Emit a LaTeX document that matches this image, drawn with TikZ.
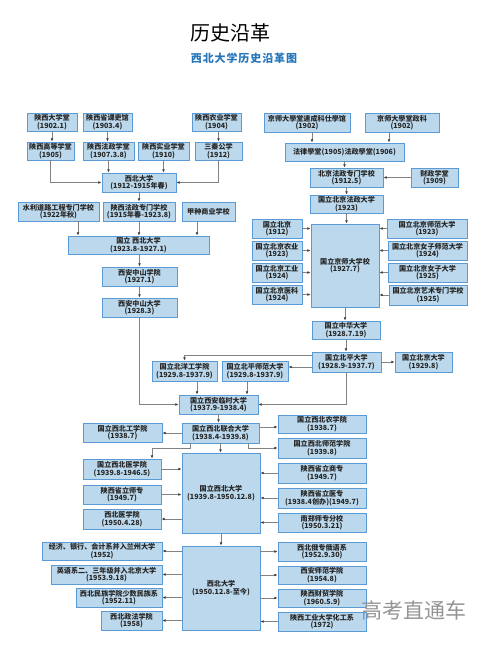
\documentclass[tikz,border=0pt]{standalone}
\usepackage{fontspec}
\newfontfamily\cjk{Noto Sans CJK SC}
\newfontfamily\cjkwide[LetterSpace=8]{Noto Sans CJK SC}
\usetikzlibrary{arrows.meta}
\definecolor{boxfill}{RGB}{187,216,236}
\definecolor{boxline}{RGB}{91,155,213}
\definecolor{linegray}{RGB}{130,130,130}
\definecolor{titleblue}{RGB}{38,118,186}
\tikzset{
  bx/.style={draw=boxline, fill=boxfill, line width=0.9pt, inner sep=0pt, align=center,
    font=\cjk\bfseries\fontsize{7.1}{7.6}\selectfont, text=black!85},
  ar/.style={draw=linegray, line width=0.9pt, -{Latex[length=3.2pt,width=2.8pt,color=black!75]}},
}
\newcommand\mybox[6]{\node[bx, minimum width={(#4-#2)*1pt}, minimum height={(#5-#3)*1pt}] (#1) at ({(#2+#4)/2},{(#3+#5)/2}) {#6};}
\begin{document}
\begin{tikzpicture}[x=1pt,y=-1pt]
\useasboundingbox (0,0) rectangle (497,650);
\node (title) at (230,33) {\cjk\fontsize{20}{20}\selectfont 历史沿革};
\node[text=titleblue] (sub) at (244,58) {\cjkwide\bfseries\fontsize{11}{11}\selectfont 西北大学历史沿革图};
% left top
\mybox{a1}{27}{113}{77}{131}{陕西大学堂\\(1902.1)}
\mybox{a2}{83}{113}{132}{131}{陕西省课吏馆\\(1903.4)}
\mybox{a3}{192}{113}{241}{131}{陕西农业学堂\\(1904)}
\mybox{b1}{27}{142}{74}{160}{陕西高等学堂\\(1905)}
\mybox{b2}{83}{142}{134}{160}{陕西法政学堂\\(1907.3.8)}
\mybox{b3}{138}{142}{189}{160}{陕西实业学堂\\(1910)}
\mybox{b4}{195}{142}{242}{160}{三秦公学\\(1912)}
\mybox{c1}{102}{173}{176}{192}{西北大学\\(1912-1915年春)}
\mybox{d1}{18}{202}{99}{221}{水利道路工程专门学校\\(1922年秋)}
\mybox{d2}{103}{202}{175}{221}{陕西法政专门学校\\(1915年春-1923.8)}
\mybox{d3}{182}{202}{235}{221}{甲种商业学校}
\mybox{e1}{68}{236}{209}{254}{国立 西北大学\\(1923.8-1927.1)}
\mybox{e2}{102}{267}{177}{286}{西安中山学院\\(1927.1)}
\mybox{e3}{102}{298}{177}{317}{西安中山大学\\(1928.3)}
% right top
\mybox{f1}{264}{113}{350}{132}{京师大學堂速成科仕學馆\\(1902)}
\mybox{f2}{365}{113}{439}{132}{京师大學堂政科\\(1902)}
\mybox{g1}{285}{143}{404}{161}{法律學堂(1905)法政學堂(1906)}
\mybox{h1}{310}{168}{383}{187}{北京法政专门学校\\(1912.5)}
\mybox{h2}{411}{168}{458}{187}{财政学堂\\(1909)}
\mybox{i1}{310}{195}{383}{213}{国立北京法政大学\\(1923)}
\mybox{j0}{311}{224}{379}{307}{国立京师大学校\\(1927.7)}
\mybox{jl1}{252}{219}{302}{238}{国立北京\\(1912)}
\mybox{jl2}{252}{241}{302}{260}{国立北京农业\\(1923)}
\mybox{jl3}{252}{263}{302}{282}{国立北京工业\\(1924)}
\mybox{jl4}{252}{285}{302}{304}{国立北京医科\\(1924)}
\mybox{jr1}{387}{219}{467}{238}{国立北京师范大学\\(1923)}
\mybox{jr2}{388}{241}{467}{260}{国立北京女子师范大学\\(1924)}
\mybox{jr3}{388}{263}{467}{282}{国立北京女子大学\\(1925)}
\mybox{jr4}{389}{285}{467}{305}{国立北京艺术专门学校\\(1925)}
\mybox{k1}{312}{321}{380}{339}{国立中华大学\\(1928.7.19)}
\mybox{k2}{312}{352}{381}{372}{国立北平大学\\(1928.9-1937.7)}
\mybox{k3}{395}{352}{452}{372}{国立北京大学\\(1929.8)}
% middle
\mybox{l1}{152}{361}{217}{381}{国立北洋工学院\\(1929.8-1937.9)}
\mybox{l2}{222}{361}{288}{381}{国立北平师范大学\\(1929.8-1937.9)}
\mybox{m1}{179}{395}{258}{414}{国立西安临时大学\\(1937.9-1938.4)}
\mybox{n1}{182}{423}{259}{443}{国立西北联合大学\\(1938.4-1939.8)}
\mybox{n2}{83}{423}{162}{442}{国立西北工学院\\(1938.7)}
\mybox{n3}{278}{415}{366}{433}{国立西北农学院\\(1938.7)}
\mybox{n4}{278}{438}{366}{458}{国立西北师范学院\\(1939.8)}
\mybox{o0}{182}{453}{260}{533}{国立西北大学\\(1939.8-1950.12.8)}
\mybox{ol1}{83}{459}{161}{479}{国立西北医学院\\(1939.8-1946.5)}
\mybox{ol2}{83}{485}{161}{504}{陕西省立师专\\(1949.7)}
\mybox{ol3}{83}{509}{161}{529}{西北医学院\\(1950.4.28)}
\mybox{or1}{278}{463}{366}{483}{陕西省立商专\\(1949.7)}
\mybox{or2}{278}{488}{366}{508}{陕西省立医专\\(1938.4创办)(1949.7)}
\mybox{or3}{278}{513}{366}{532}{南郑师专分校\\(1950.3.21)}
% bottom
\mybox{p0}{182}{546}{260}{630}{西北大学\\(1950.12.8-至今)}
\mybox{pl1}{42}{542}{162}{560}{经济、银行、会计系并入兰州大学\\(1952)}
\mybox{pl2}{51}{565}{162}{584}{英语系二、三年级并入北京大学\\(1953.9.18)}
\mybox{pl3}{76}{588}{162}{607}{西北民族学院少数民族系\\(1952.11)}
\mybox{pl4}{101}{611}{162}{630}{西北政法学院\\(1958)}
\mybox{pr1}{278}{542}{366}{561}{西北俄专俄语系\\(1952.9.30)}
\mybox{pr2}{278}{566}{366}{584}{西安师范学院\\(1954.8)}
\mybox{pr3}{278}{589}{366}{607}{陕西财贸学院\\(1960.5.9)}
\mybox{pr4}{278}{612}{366}{631}{陕西工业大学化工系\\(1972)}
% helper coordinates
\coordinate (d1x) at ([xshift=19.5pt]d1.south);
\coordinate (d3x) at ([xshift=-11.5pt]d3.south);
\coordinate (f1x) at ([xshift=5pt]f1.south);
\coordinate (f2x) at ([xshift=-13pt]f2.south);
\coordinate (k2a) at ([yshift=7pt]k2.west);
\coordinate (k2b) at ([yshift=-5pt]k2.west);
\coordinate (l1x) at ([xshift=12.5pt]l1.south);
\coordinate (l2x) at ([xshift=-8pt]l2.south);
\coordinate (n1a) at ([yshift=6pt]n1.east);
\coordinate (n1r) at ([xshift=27.5pt]n1.south);
\coordinate (n1l) at ([xshift=-30.5pt]n1.south);
\coordinate (ol1t) at ([xshift=30pt]ol1.north);
% connectors
\draw[ar] (a1.south) -- (a1.south |- b1.north);
\draw[ar] (a2.south) -- (a2.south |- b2.north);
\draw[ar] (b4.north |- a3.south) -- (b4.north);
\draw[ar] (b1.south) |- (c1.west);
\draw[ar] (b2.south) -- (b2.south |- c1.north);
\draw[ar] (b3.south) -- (b3.south |- c1.north);
\draw[ar] (b4.south) |- (c1.east);
\draw[ar] (c1.south) -- (c1.south |- d2.north);
\draw[ar] (d1x) -- (d1x |- e1.north);
\draw[ar] (d2.south) -- (d2.south |- e1.north);
\draw[ar] (d3x) -- (d3x |- e1.north);
\draw[ar] (e2.north |- e1.south) -- (e2.north);
\draw[ar] (e2.south) -- (e3.north);
\draw[ar] (e3.south) |- (m1.west);
\draw[ar] (f1x) -- (f1x |- g1.north);
\draw[ar] (f2x) -- (f2x |- g1.north);
\draw[ar] (g1.south) -- (g1.south |- h1.north);
\draw[ar] (h2.west) -- (h1.east);
\draw[ar] (h1.south) -- (i1.north);
\draw[ar] (i1.south) -- (i1.south |- j0.north);
\foreach \n in {jl1,jl2,jl3,jl4} \draw[ar] (\n.east) -- (\n.east -| j0.west);
\foreach \n in {jr1,jr2,jr3,jr4} \draw[ar] (\n.west) -- (\n.west -| j0.east);
\draw[ar] (j0.south) -- (j0.south |- k1.north);
\draw[ar] (k1.south) -- (k1.south |- k2.north);
\draw[ar] (k2.east) -- (k3.west);
\draw[ar] (k2a) -| (l1.north);
\draw[ar] (k2b) -- (k2b -| l2.east);
\draw[ar] (l1x) -- (l1x |- m1.north);
\draw[ar] (l2x) -- (l2x |- m1.north);
\draw[ar] (k2.south) |- (m1.east);
\draw[ar] (m1.south) -- (m1.south |- n1.north);
\draw[ar] (n1.west) -- (n1.west -| n2.east);
\draw[ar] (n1a) -- (n1a -| n3.west);
\draw[ar] (n1r) |- (n4.west);
\draw[ar] (n1l) -- ++(0,5) -| (ol1t);
\draw[ar] (n1.south) -- (n1.south |- o0.north);
\draw[ar] (ol1.east) -- (ol1.east -| o0.west);
\draw[ar] (ol2.east) -- (ol2.east -| o0.west);
\draw[ar] (ol3.east -| o0.west) -- (ol3.east);
\foreach \n in {or1,or2,or3} \draw[ar] (\n.west) -- (\n.west -| o0.east);
\draw[ar] (o0.south) -- (o0.south |- p0.north);
\foreach \n in {pl1,pl2,pl3,pl4} \draw[ar] (\n.east -| p0.west) -- (\n.east);
\foreach \n in {pr1,pr2,pr3} \draw[ar] (\n.west -| p0.east) -- (\n.west);
\draw[ar] (pr4.west) -- (pr4.west -| p0.east);
% watermark
\node[text=black!42] (wm) at (414,610) {\cjk\fontsize{21}{21}\selectfont 高考直通车};
\end{tikzpicture}
\end{document}
